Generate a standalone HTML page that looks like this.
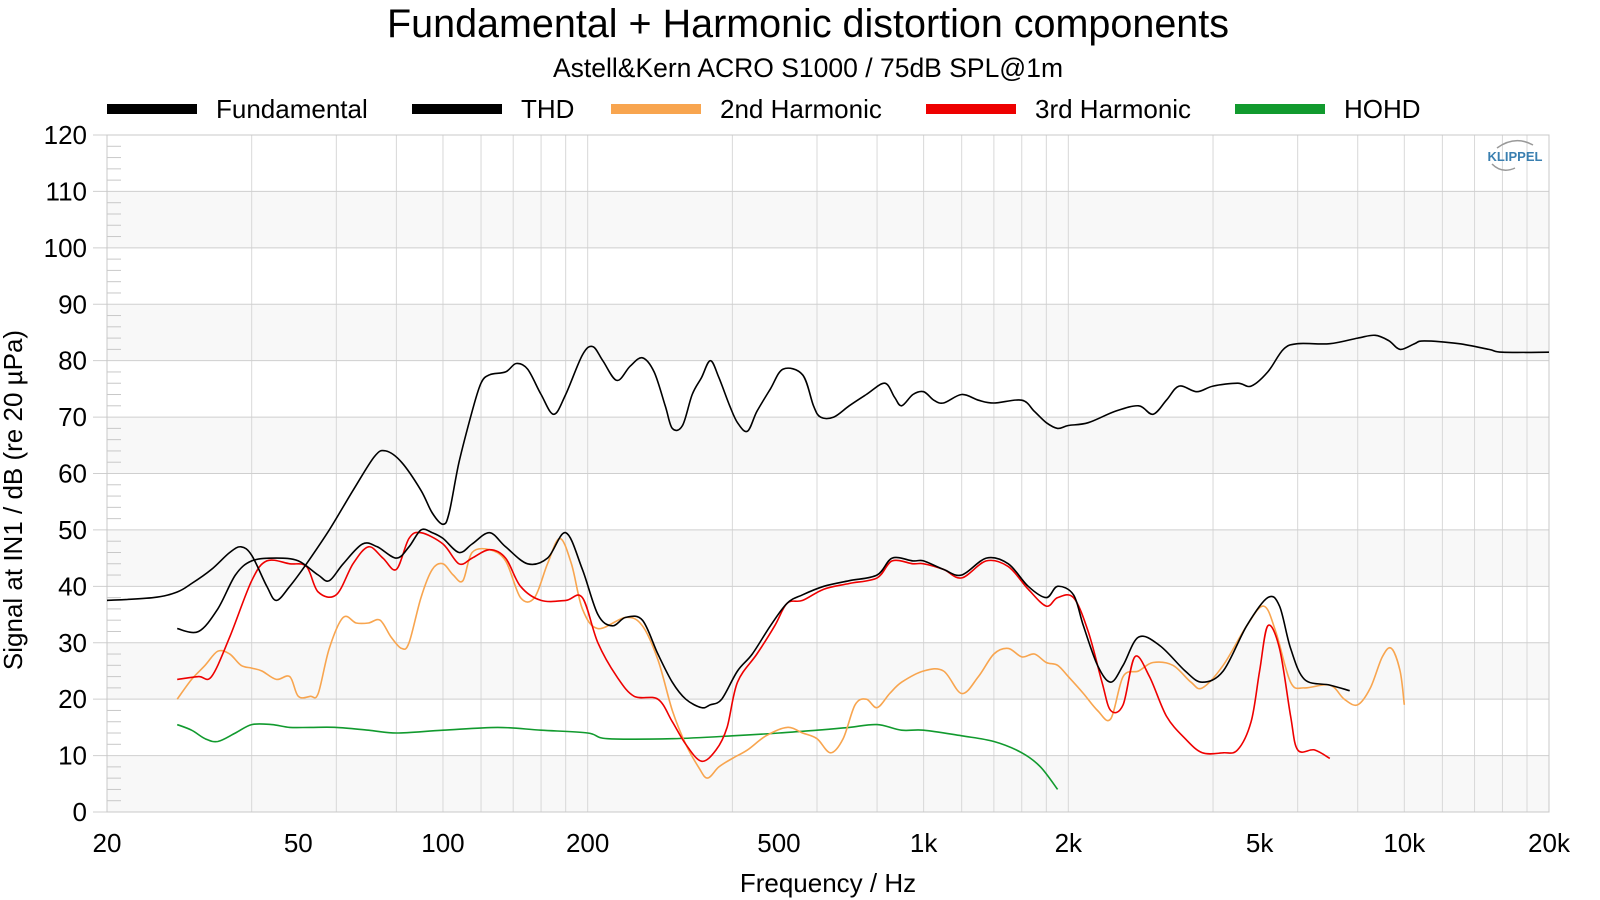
<!DOCTYPE html>
<html><head><meta charset="utf-8"><style>
body{margin:0;background:#fff;width:1600px;height:900px;overflow:hidden;font-family:"Liberation Sans",sans-serif;}
svg{display:block}
</style></head><body>
<svg id="chart" width="1600" height="900" xmlns="http://www.w3.org/2000/svg" font-family="Liberation Sans, sans-serif">
<text x="808" y="37" font-size="39.5" text-anchor="middle">Fundamental + Harmonic distortion components</text>
<text x="808" y="77" font-size="26.5" text-anchor="middle">Astell&amp;Kern ACRO S1000 / 75dB SPL@1m</text>
<g id="grid"></g>
<g id="series"></g>
<g id="legend"></g>
<text x="828" y="892" font-size="26" text-anchor="middle">Frequency / Hz</text>
<text transform="translate(22,500) rotate(-90)" font-size="26" text-anchor="middle">Signal at IN1 / dB (re 20 µPa)</text>
<g>
<text x="1515" y="161" font-size="13" font-weight="bold" fill="#3a7fb0" text-anchor="middle">KLIPPEL</text>
<path d="M1497 148 Q1515 135 1533 145" stroke="#999" stroke-width="1.5" fill="none"/>
<path d="M1492 164 Q1502 174 1515 168" stroke="#999" stroke-width="1.5" fill="none"/>
</g>
</svg>
<script>
const fundF=[20,25,28,30,33,36,38,40,43,45,48,52,58,65,72,76,82,90,95,100,103,108,115,120,125,135,142,150,160,170,180,195,205,215,230,245,260,275,290,300,315,330,345,360,375,395,410,430,450,480,510,560,590,610,650,700,760,830,870,900,950,1000,1050,1100,1200,1300,1400,1600,1700,1800,1900,2000,2200,2500,2800,3000,3200,3400,3700,4000,4500,4800,5200,5600,6000,7000,8000,8700,9300,9800,10500,11000,13000,15000,16000,20000];
const fundV=[37.5,38,39,40.5,43,46,47,45.5,40,37.5,40,44,50,57,63,64,62,57,53,51,53,62,71,76,77.5,78,79.5,78.5,74,70.5,74,81,82.5,80,76.5,79,80.5,78,72,68,68.5,74,77,80,77,72,69,67.5,71,75,78.5,77.5,72,70,70,72,74,76,73.5,72,74,74.5,73,72.5,74,73,72.5,73,71,69,68,68.5,69,71,72,70.5,73,75.5,74.5,75.5,76,75.5,78,82,83,83,84,84.5,83.5,82,83,83.5,83,82,81.5,81.5];
const thdF=[28,31,34,37,40,45,50,55,58,62,68,73,80,85,90,95,100,108,115,125,135,150,165,180,195,210,225,240,260,280,300,320,345,360,380,410,440,480,520,560,620,700,800,860,950,1000,1100,1200,1350,1500,1650,1800,1900,2050,2150,2300,2450,2600,2800,3100,3500,3800,4200,4700,5200,5500,5800,6200,7000,7700];
const thdV=[32.5,32,36,42,44.5,45,44.5,42,41,44,47.5,47,45,47,50,49.5,48.5,46,47.5,49.5,47,44,45,49.5,43,35,33,34.5,34,28,23,20,18.5,19,20,25,28,33,37,38.5,40,41,42,45,44.5,44.5,43,42,45,44,40,38,40,38.5,33,26,23,26,31,29.5,25,23,25,33,38,36.5,29,23.5,22.5,21.5];
const h3F=[28,31,33,36,40,43,48,52,55,60,65,70,75,80,85,90,100,108,115,125,135,145,160,180,195,210,230,250,280,300,320,345,370,390,410,450,490,520,560,620,700,800,860,950,1000,1100,1200,1350,1500,1650,1800,1900,2050,2200,2350,2450,2600,2750,2950,3200,3500,3800,4200,4500,4800,5000,5200,5500,5800,6000,6500,7000];
const h3V=[23.5,24,24,31,41,44.5,44,43.5,39,38.5,44,47,45,43,48.5,49.5,47.5,44,45,46.5,45,40,37.5,37.5,38,30,24,20.5,20,16,12,9,11,15,23,28,33,37,37.5,39.5,40.5,41.5,44.5,44,44,43,41.5,44.5,43.5,39.5,36.5,38,38,32,23,18,19,27.5,24,17,13,10.5,10.5,11,16,25,33,29,17,11,11,9.5];
const h2F=[28,30,32,34,36,38,40,42,45,48,50,53,55,58,62,66,70,74,78,82,85,90,95,100,105,110,115,125,135,145,155,165,175,185,195,210,240,260,280,300,320,340,355,375,400,430,470,520,560,600,640,680,720,760,800,850,900,1000,1100,1200,1300,1400,1500,1600,1700,1800,1900,2000,2150,2300,2450,2600,2800,3000,3300,3600,3800,4200,4700,5100,5400,5800,6200,7000,7500,8000,8500,9000,9400,9800,10000];
const h2V=[20,23.5,26,28.5,28,26,25.5,25,23.5,24,20.5,20.5,21,29,34.5,33.5,33.5,34,31,29,30,38,43,44,42,41,46,46.5,44.5,38,38,44,48.5,44,36,32.5,34.5,33,27,18,12,8,6,8,9.5,11,13.5,15,14,13,10.5,13,19,20,18.5,21,23,25,25,21,24,28,29,27.5,28,26.5,26,24,21,18,16.5,24,25,26.5,26,23,22,26,33,36.5,32,23,22,22.5,20,19,22,27.5,29,25,19];
const hohdF=[28,30,32,34,37,40,44,48,53,60,70,80,100,130,160,200,220,300,400,500,600,700,800,900,1000,1200,1400,1600,1750,1900];
const hohdV=[15.5,14.5,13,12.5,14,15.5,15.5,15,15,15,14.5,14,14.5,15,14.5,14,13,13,13.5,14,14.5,15,15.5,14.5,14.5,13.5,12.5,10.5,8,4];
const yTicks=[0,10,20,30,40,50,60,70,80,90,100,110,120];
const xTickVals=[20,50,100,200,500,1000,2000,5000,10000,20000];
const xTickLabels=["20","50","100","200","500","1k","2k","5k","10k","20k"];

const L=107,R=1549,T=135,B=812;
const xs=f=>L+Math.log10(f/20)/3*(R-L);
const ys=v=>B-v/120*(B-T);
const NS="http://www.w3.org/2000/svg";
function mk(tag,attrs,parent){const e=document.createElementNS(NS,tag);for(const k in attrs)e.setAttribute(k,attrs[k]);parent.appendChild(e);return e;}
const grid=document.getElementById('grid');
for(let v=0;v<120;v+=20){
  const r=mk('rect',{x:L,y:ys(v+10),width:R-L,height:ys(v)-ys(v+10),fill:'#f8f8f8'},grid);
  
  
}
for(let d=20;d<=20000;d*=10){for(let m=1;m<10;m++){const f=d*m;if(f<20||f>20000)continue;
  const l=mk('line',{x1:xs(f),x2:xs(f),y1:T,y2:B,stroke:'#d8d8d8','stroke-width':1},grid);
  
  
}}
for(let v=0;v<=120;v+=2){
  const major=v%10===0;
  const l=mk('line',{x1:major?L-14:L,x2:major?R:L+14,y1:ys(v),y2:ys(v),stroke:major?'#cfcfcf':'#c8c8c8','stroke-width':1},grid);
  
  
}
mk('rect',{x:L,y:T,width:R-L,height:B-T,fill:'none',stroke:'#c8c8c8'},grid);
yTicks.forEach(v=>{
  const t=mk('text',{x:87,y:ys(v)+9,'font-size':26,'text-anchor':'end'},grid);t.textContent=v;
  
  
});
xTickVals.forEach((f,i)=>{
  const t=mk('text',{x:xs(f),y:852,'font-size':26,'text-anchor':'middle'},grid);t.textContent=xTickLabels[i];
  
  
});
const ser=document.getElementById('series');
function line(F,V,color,name){
  const P=F.map((f,i)=>[xs(f),ys(V[i])]);
  let d='M'+P[0][0].toFixed(1)+' '+P[0][1].toFixed(1);
  for(let i=0;i<P.length-1;i++){
    const p0=P[Math.max(0,i-1)],p1=P[i],p2=P[i+1],p3=P[Math.min(P.length-1,i+2)];
    const c1=[p1[0]+(p2[0]-p0[0])/6,p1[1]+(p2[1]-p0[1])/6];
    const c2=[p2[0]-(p3[0]-p1[0])/6,p2[1]-(p3[1]-p1[1])/6];
    d+=' C'+c1.map(n=>n.toFixed(1)).join(' ')+' '+c2.map(n=>n.toFixed(1)).join(' ')+' '+p2[0].toFixed(1)+' '+p2[1].toFixed(1);
  }
  const p=mk('path',{d:d,fill:'none',stroke:color,'stroke-width':1.6,'stroke-linejoin':'round'},ser);
  
  
}
line(hohdF,hohdV,'#119a2e','hohd-line');
line(h2F,h2V,'#f8a54f','2nd-harmonic-line');
line(h3F,h3V,'#ee0000','3rd-harmonic-line');
line(thdF,thdV,'#000','thd-line');
line(fundF,fundV,'#000','fundamental-line');
const leg=document.getElementById('legend');
[["Fundamental","#000",107],["THD","#000",412],["2nd Harmonic","#f8a54f",611],["3rd Harmonic","#ee0000",926],["HOHD","#119a2e",1235]].forEach(e=>{
  const r=mk('rect',{x:e[2],y:104,width:90,height:10,fill:e[1]},leg);
  
  
  const t=mk('text',{x:e[2]+109,y:118,'font-size':26},leg);t.textContent=e[0];
  
  
});
</script>
</body></html>
